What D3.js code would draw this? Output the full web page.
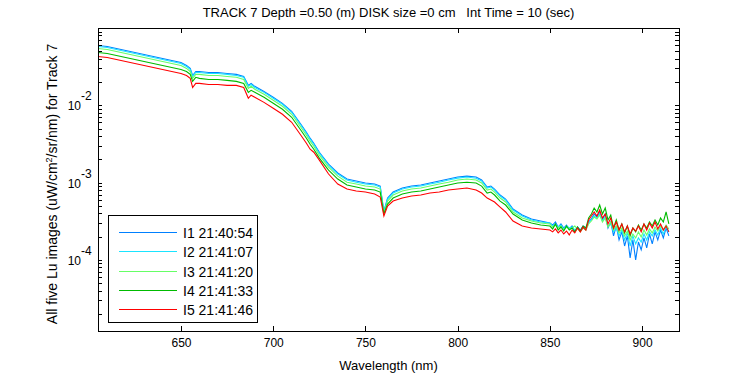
<!DOCTYPE html>
<html lang="en">
<head>
    <meta charset="UTF-8" />
    <title>TRACK 7 Lu spectra</title>
    <script src="https://d3js.org/d3.v7.min.js"></script>
    <style>
        * { margin: 0; padding: 0; box-sizing: border-box; }
        body { background-color: #fff; }
        svg { display: block; font-family: Arial, "Liberation Sans", sans-serif; }
    </style>
</head>
<body>
    <svg width="750" height="375"></svg>

    <script>
        // Wavelength (nm) of every sample
        var wavelength = [
            605, 610, 615, 620, 625, 630, 635, 640, 645, 650,
            653, 655, 656.3, 658, 660, 665, 670, 675, 680, 684,
            686.5, 688, 690, 695, 700, 705, 710, 715, 718, 720,
            722, 725, 730, 735, 740, 745, 750, 755, 758, 760,
            762, 765, 770, 775, 780, 785, 790, 795, 800, 805,
            810, 813, 816, 818, 820, 823, 826, 830, 835, 840, 845,
            850, 851.5, 853, 854.5, 856, 857.5, 859, 860.5, 862, 863.5,
            865, 866.5, 868, 869.5, 871, 872.5, 874, 875.5, 877, 878.5,
            880, 881.5, 883, 884.5, 886, 887.5, 889, 890.5, 892, 893.5,
            895, 896.5, 898, 899.5, 901, 902.5, 904, 905.5, 907, 908.5,
            910, 911.5, 913, 914.5
        ];

        // Lu for the five images (uW/cm^2/sr/nm)
        var I1 = [
            5.94e-2, 5.76e-2, 5.43e-2, 5.12e-2, 4.82e-2, 4.55e-2, 4.28e-2, 4.04e-2, 3.80e-2, 3.58e-2,
            3.28e-2, 3.00e-2, 2.43e-2, 2.74e-2, 2.74e-2, 2.66e-2, 2.66e-2, 2.58e-2, 2.51e-2, 2.36e-2,
            1.81e-2, 1.92e-2, 1.76e-2, 1.51e-2, 1.27e-2, 1.06e-2, 8.37e-3, 5.68e-3, 4.48e-3, 3.75e-3,
            3.23e-3, 2.47e-3, 1.73e-3, 1.33e-3, 1.11e-3, 1.05e-3, 9.86e-4, 9.57e-4, 9.01e-4, 4.28e-4,
            6.30e-4, 7.54e-4, 8.49e-4, 9.01e-4, 9.29e-4, 9.86e-4, 1.05e-3, 1.11e-3, 1.18e-3, 1.21e-3,
            1.18e-3, 1.08e-3, 8.75e-4, 9.01e-4, 8.24e-4, 6.90e-4, 6.12e-4, 4.55e-4, 3.80e-4, 3.38e-4, 3.18e-4,
            3.00e-4, 2.82e-4, 3.09e-4, 2.66e-4, 2.91e-4, 2.58e-4, 2.82e-4, 2.51e-4, 2.74e-4, 2.36e-4,
            2.66e-4, 2.43e-4, 2.74e-4, 2.58e-4, 3.09e-4, 3.38e-4, 3.92e-4, 3.58e-4, 4.16e-4, 3.28e-4,
            3.92e-4, 2.58e-4, 3.09e-4, 2.04e-4, 2.74e-4, 1.81e-4, 2.30e-4, 1.51e-4, 2.04e-4, 1.06e-4,
            1.81e-4, 1.00e-4, 1.70e-4, 1.35e-4, 1.92e-4, 1.43e-4, 2.16e-4, 1.61e-4, 2.30e-4, 1.81e-4,
            2.43e-4, 1.92e-4, 2.58e-4, 2.04e-4
        ];
        var I2 = [
            5.76e-2, 5.60e-2, 5.27e-2, 4.97e-2, 4.68e-2, 4.41e-2, 4.16e-2, 3.92e-2, 3.69e-2, 3.48e-2,
            3.18e-2, 2.91e-2, 2.36e-2, 2.66e-2, 2.66e-2, 2.58e-2, 2.58e-2, 2.51e-2, 2.43e-2, 2.30e-2,
            1.76e-2, 1.86e-2, 1.70e-2, 1.47e-2, 1.23e-2, 1.03e-2, 8.12e-3, 5.52e-3, 4.35e-3, 3.64e-3,
            3.13e-3, 2.40e-3, 1.68e-3, 1.29e-3, 1.08e-3, 1.01e-3, 9.57e-4, 9.29e-4, 8.75e-4, 4.16e-4,
            6.12e-4, 7.32e-4, 8.24e-4, 8.75e-4, 9.01e-4, 9.57e-4, 1.01e-3, 1.08e-3, 1.14e-3, 1.18e-3,
            1.14e-3, 1.05e-3, 8.49e-4, 8.75e-4, 8.00e-4, 6.69e-4, 5.94e-4, 4.41e-4, 3.69e-4, 3.28e-4, 3.09e-4,
            3.00e-4, 2.74e-4, 2.91e-4, 2.66e-4, 2.82e-4, 2.51e-4, 2.74e-4, 2.58e-4, 2.66e-4, 2.43e-4,
            2.58e-4, 2.36e-4, 2.66e-4, 2.51e-4, 3.00e-4, 3.28e-4, 3.69e-4, 3.48e-4, 3.92e-4, 3.18e-4,
            3.58e-4, 2.74e-4, 2.91e-4, 2.30e-4, 2.58e-4, 2.04e-4, 2.43e-4, 1.81e-4, 2.23e-4, 1.51e-4,
            2.04e-4, 1.61e-4, 1.92e-4, 1.70e-4, 2.16e-4, 1.81e-4, 2.30e-4, 2.04e-4, 2.43e-4, 2.10e-4,
            2.58e-4, 2.16e-4, 2.66e-4, 2.30e-4
        ];
        var I3 = [
            5.43e-2, 5.27e-2, 4.97e-2, 4.68e-2, 4.41e-2, 4.16e-2, 3.92e-2, 3.69e-2, 3.48e-2, 3.28e-2,
            3.00e-2, 2.74e-2, 2.23e-2, 2.51e-2, 2.51e-2, 2.43e-2, 2.43e-2, 2.36e-2, 2.30e-2, 2.16e-2,
            1.65e-2, 1.76e-2, 1.61e-2, 1.39e-2, 1.16e-2, 9.71e-3, 7.65e-3, 5.20e-3, 4.10e-3, 3.43e-3,
            2.95e-3, 2.26e-3, 1.58e-3, 1.21e-3, 1.01e-3, 9.57e-4, 9.01e-4, 8.75e-4, 8.24e-4, 4.04e-4,
            5.76e-4, 6.90e-4, 7.77e-4, 8.24e-4, 8.49e-4, 9.01e-4, 9.57e-4, 1.01e-3, 1.08e-3, 1.11e-3,
            1.08e-3, 9.86e-4, 8.00e-4, 8.24e-4, 7.54e-4, 6.30e-4, 5.60e-4, 4.16e-4, 3.48e-4, 3.18e-4, 3.00e-4,
            2.91e-4, 2.66e-4, 2.82e-4, 2.58e-4, 2.74e-4, 2.43e-4, 2.66e-4, 2.51e-4, 2.58e-4, 2.74e-4,
            2.51e-4, 2.30e-4, 2.58e-4, 2.43e-4, 2.91e-4, 3.18e-4, 3.58e-4, 3.38e-4, 3.80e-4, 3.09e-4,
            3.48e-4, 2.66e-4, 3.09e-4, 2.43e-4, 2.74e-4, 2.23e-4, 2.58e-4, 2.04e-4, 2.36e-4, 1.81e-4,
            2.16e-4, 1.92e-4, 2.30e-4, 1.98e-4, 2.43e-4, 2.10e-4, 2.51e-4, 2.23e-4, 2.66e-4, 2.36e-4,
            2.74e-4, 2.43e-4, 2.82e-4, 2.51e-4
        ];
        var I4 = [
            4.82e-2, 4.68e-2, 4.41e-2, 4.16e-2, 3.92e-2, 3.69e-2, 3.48e-2, 3.28e-2, 3.09e-2, 2.91e-2,
            2.74e-2, 2.51e-2, 2.04e-2, 2.30e-2, 2.23e-2, 2.16e-2, 2.16e-2, 2.10e-2, 2.04e-2, 1.92e-2,
            1.47e-2, 1.56e-2, 1.47e-2, 1.27e-2, 1.06e-2, 8.88e-3, 7.00e-3, 4.75e-3, 3.75e-3, 3.13e-3,
            2.70e-3, 2.07e-3, 1.45e-3, 1.11e-3, 9.29e-4, 8.75e-4, 8.24e-4, 8.00e-4, 7.54e-4, 3.92e-4,
            5.27e-4, 6.30e-4, 7.10e-4, 7.54e-4, 7.77e-4, 8.24e-4, 8.75e-4, 9.29e-4, 9.86e-4, 1.01e-3,
            9.86e-4, 9.01e-4, 7.32e-4, 7.54e-4, 6.90e-4, 5.76e-4, 5.12e-4, 3.92e-4, 3.28e-4, 3.00e-4, 2.82e-4,
            2.74e-4, 2.51e-4, 2.91e-4, 2.43e-4, 2.66e-4, 2.36e-4, 2.74e-4, 2.43e-4, 2.58e-4, 2.30e-4,
            2.66e-4, 2.36e-4, 2.74e-4, 2.58e-4, 3.48e-4, 3.92e-4, 4.68e-4, 4.16e-4, 5.12e-4, 3.92e-4,
            4.68e-4, 3.28e-4, 3.80e-4, 2.58e-4, 3.28e-4, 2.43e-4, 2.91e-4, 2.23e-4, 2.74e-4, 2.04e-4,
            2.58e-4, 2.30e-4, 2.82e-4, 2.43e-4, 2.91e-4, 2.58e-4, 3.09e-4, 2.74e-4, 3.28e-4, 2.82e-4,
            3.48e-4, 3.09e-4, 4.16e-4, 2.91e-4
        ];
        var I5 = [
            4.28e-2, 4.16e-2, 3.92e-2, 3.69e-2, 3.48e-2, 3.28e-2, 3.09e-2, 2.91e-2, 2.74e-2, 2.58e-2,
            2.43e-2, 2.23e-2, 1.70e-2, 1.92e-2, 1.92e-2, 1.86e-2, 1.86e-2, 1.81e-2, 1.81e-2, 1.70e-2,
            1.23e-2, 1.35e-2, 1.27e-2, 1.09e-2, 9.15e-3, 7.65e-3, 6.03e-3, 4.10e-3, 3.23e-3, 2.70e-3,
            2.47e-3, 1.95e-3, 1.29e-3, 9.57e-4, 8.24e-4, 7.77e-4, 7.54e-4, 7.10e-4, 6.50e-4, 3.69e-4,
            4.97e-4, 5.76e-4, 6.30e-4, 6.69e-4, 6.90e-4, 7.32e-4, 7.54e-4, 8.00e-4, 8.24e-4, 8.49e-4,
            8.00e-4, 7.32e-4, 6.30e-4, 5.94e-4, 5.60e-4, 4.82e-4, 4.16e-4, 3.18e-4, 2.74e-4, 2.58e-4, 2.51e-4,
            2.43e-4, 2.30e-4, 2.51e-4, 2.23e-4, 2.43e-4, 2.16e-4, 2.36e-4, 2.10e-4, 2.43e-4, 2.23e-4,
            2.58e-4, 2.30e-4, 2.66e-4, 2.43e-4, 3.28e-4, 3.69e-4, 4.16e-4, 3.69e-4, 4.41e-4, 3.48e-4,
            3.92e-4, 2.91e-4, 3.48e-4, 2.58e-4, 3.09e-4, 2.43e-4, 2.91e-4, 2.30e-4, 2.74e-4, 2.16e-4,
            2.58e-4, 2.36e-4, 2.74e-4, 2.30e-4, 2.91e-4, 2.43e-4, 3.00e-4, 2.58e-4, 3.09e-4, 2.51e-4,
            2.91e-4, 2.43e-4, 2.74e-4, 2.30e-4
        ];

        // Legend labels and tick values
        var seriesNames = ["I1 21:40:54", "I2 21:41:07", "I3 21:41:20", "I4 21:41:33", "I5 21:41:46"];
        var xTicks = [650, 700, 750, 800, 850, 900];
        var yMajorExp = [-2, -3, -4];

        var seriesValues = [I1, I2, I3, I4, I5];
        var seriesColors = ["#0080ff", "#1ae4ff", "#66ff66", "#00bb00", "#ff0000"];

        // Plot box in pixels
        var plotLeft = 98, plotRight = 679, plotTop = 28, plotBottom = 331;

        var svg = d3.select("svg");

        svg.append("rect")
            .attr("width", 750).attr("height", 375)
            .attr("fill", "#fff");

        var xScale = d3.scaleLinear()
            .domain([605, 920])
            .range([plotLeft, plotRight]);

        var yScale = d3.scaleLog()
            .domain([1.2e-5, 0.1])
            .range([plotBottom, plotTop]);

        // minor ticks of the log axis: 1..9 x 10^n inside the domain
        var yTicks = [];
        [-5, -4, -3, -2].forEach(function(e) {
            for (var k = 1; k <= 9; k++) {
                var v = k * Math.pow(10, e);
                if (v > 1.2e-5 && v < 0.1) yTicks.push(v);
            }
        });

        // Spectra, first image drawn first so red ends on top
        var line = d3.line()
            .x(function(d) { return xScale(d[0]); })
            .y(function(d) { return yScale(d[1]); });

        seriesValues.forEach(function(vals, i) {
            svg.append("path")
                .datum(d3.zip(wavelength, vals))
                .attr("d", line)
                .attr("fill", "none")
                .attr("stroke", seriesColors[i])
                .attr("stroke-width", 1.1);
        });

        // Axes, ticks pointing inwards on all four sides
        svg.append("g")
            .attr("transform", "translate(0," + plotBottom + ")")
            .call(d3.axisBottom(xScale).tickValues(xTicks).tickSize(-5).tickPadding(7).tickFormat(d3.format("d")))
            .call(function(g) { g.select(".domain").remove(); });

        svg.append("g")
            .attr("transform", "translate(0," + plotTop + ")")
            .call(d3.axisTop(xScale).tickValues(xTicks).tickSize(-5).tickFormat(""))
            .call(function(g) { g.select(".domain").remove(); });

        svg.append("g")
            .attr("transform", "translate(" + plotLeft + ",0)")
            .call(d3.axisLeft(yScale).tickValues(yTicks).tickSize(-4).tickFormat(""))
            .call(function(g) { g.select(".domain").remove(); });

        svg.append("g")
            .attr("transform", "translate(" + plotRight + ",0)")
            .call(d3.axisRight(yScale).tickValues(yTicks).tickSize(-4).tickFormat(""))
            .call(function(g) { g.select(".domain").remove(); });

        svg.selectAll(".tick line").attr("stroke", "#000").attr("shape-rendering", "crispEdges");
        svg.selectAll(".tick text")
            .attr("font-family", "Arial, 'Liberation Sans', sans-serif")
            .attr("font-size", "12px")
            .attr("fill", "#000");

        // Frame
        svg.append("rect")
            .attr("x", plotLeft).attr("y", plotTop)
            .attr("width", plotRight - plotLeft).attr("height", plotBottom - plotTop)
            .attr("fill", "none")
            .attr("stroke", "#000")
            .attr("shape-rendering", "crispEdges");

        // y tick labels as 10 with exponent
        yMajorExp.forEach(function(e) {
            var yy = yScale(Math.pow(10, e));
            svg.append("text")
                .attr("x", 81).attr("y", yy + 5)
                .attr("text-anchor", "end")
                .attr("font-size", "12px")
                .text("10");
            svg.append("text")
                .attr("x", 81).attr("y", yy - 5)
                .attr("font-size", "12px")
                .text(String(e));
        });

        // Title and axis labels
        svg.append("text")
            .attr("x", (plotLeft + plotRight) / 2).attr("y", 17)
            .attr("text-anchor", "middle")
            .attr("font-size", "13px")
            .style("white-space", "pre")
            .text("TRACK 7 Depth =0.50 (m) DISK size =0 cm   Int Time = 10 (sec)");

        svg.append("text")
            .attr("x", (plotLeft + plotRight) / 2).attr("y", 370)
            .attr("text-anchor", "middle")
            .attr("font-size", "13px")
            .text("Wavelength (nm)");

        var yLabel = svg.append("text")
            .attr("transform", "translate(57,184) rotate(-90)")
            .attr("text-anchor", "middle")
            .attr("font-size", "14px");
        yLabel.append("tspan").text("All five Lu images (uW/cm");
        yLabel.append("tspan").attr("dy", -5).attr("font-size", "9px").text("2");
        yLabel.append("tspan").attr("dy", 5).text("/sr/nm) for Track 7");

        // Legend
        var legend = svg.append("g");
        legend.append("rect")
            .attr("x", 108).attr("y", 215)
            .attr("width", 149).attr("height", 107)
            .attr("fill", "#fff")
            .attr("stroke", "#000")
            .attr("shape-rendering", "crispEdges");

        seriesNames.forEach(function(name, i) {
            var ly = Math.round(232 + i * 19.3) + 0.5;
            legend.append("line")
                .attr("x1", 119).attr("x2", 177)
                .attr("y1", ly).attr("y2", ly)
                .attr("stroke", seriesColors[i]);
            legend.append("text")
                .attr("x", 183).attr("y", ly + 5)
                .attr("font-size", "14px")
                .text(name);
        });
    </script>
</body>
</html>
